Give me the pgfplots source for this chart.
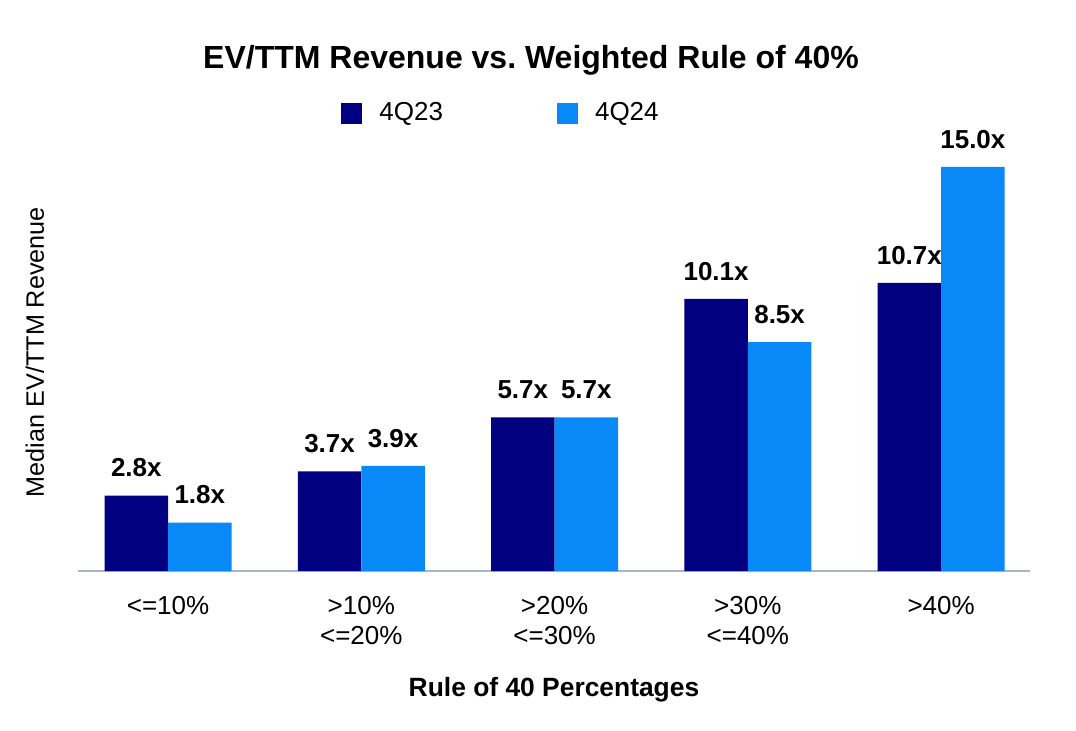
\documentclass[border=0pt]{standalone}
\usepackage{pgfplots}
\pgfplotsset{compat=1.18}
\usepackage{fontspec}
\setmainfont{Liberation Sans}
\definecolor{navyc}{HTML}{000080}
\definecolor{bluec}{HTML}{0889F7}
\definecolor{axisc}{HTML}{A9B4C8}
\begin{document}
\begin{tikzpicture}
\useasboundingbox (-39pt,-79.5pt) rectangle (499pt,285.5pt);
\begin{axis}[
  at={(0pt,0pt)}, anchor=south west,
  scale only axis,
  width=476pt, height=215.5pt,
  xmin=-0.466, xmax=4.46,
  ymin=0, ymax=16,
  ybar=0pt,
  bar width=0.3286,
  axis x line*=bottom,
  axis y line*=left,
  y axis line style={draw=none},
  x axis line style={draw=axisc, line width=1.2pt, -},
  ytick=\empty,
  xtick=data,
  xtick style={draw=none},
  major tick length=0pt,
  xticklabels={{<=10\%},{>10\%\\<=20\%},{>20\%\\<=30\%},{>30\%\\<=40\%},{>40\%}},
  xticklabel style={font=\fontsize{13pt}{15pt}\selectfont, align=center, anchor=north, inner sep=0pt, yshift=-12.5pt, text=black},
  ylabel={Median EV/TTM Revenue},
  ylabel style={font=\fontsize{12.6pt}{15pt}\selectfont, at={(axis description cs:-0.0452,0.508)}, anchor=center, rotate=0},
  xlabel={Rule of 40 Percentages},
  xlabel style={font=\bfseries\fontsize{13.2pt}{16pt}\selectfont, at={(axis description cs:0.5,0)}, anchor=center, yshift=-59.5pt},
  nodes near coords={\pgfmathprintnumber[fixed,fixed zerofill,precision=1,assume math mode=true]{\pgfplotspointmeta}x},
  every node near coord/.append style={font=\bfseries\fontsize{13pt}{15pt}\selectfont, anchor=south, inner sep=0pt, yshift=9pt, text=black},
  legend columns=2,
  legend style={at={(0.2763,1.0626)}, anchor=west, draw=none, fill=none, inner sep=0pt,
    font=\fontsize{13pt}{15pt}\selectfont,
    /tikz/every even column/.append style={column sep=55pt},
    /tikz/every odd column/.append style={column sep=6.5pt}},
  legend image code/.code={\fill[#1] (0pt,-5.25pt) rectangle (10.5pt,5.25pt);},
]
\addplot[fill=navyc, draw=none] coordinates {(0,2.8) (1,3.7) (2,5.7) (3,10.1) (4,10.7)};
\addplot[fill=bluec, draw=none] coordinates {(0,1.8) (1,3.9) (2,5.7) (3,8.5) (4,15.0)};
\legend{4Q23,4Q24}
\end{axis}
\node[font=\bfseries\fontsize{16pt}{19pt}\selectfont, anchor=center] at (226.5pt,255.5pt) {EV/TTM Revenue vs.\ Weighted Rule of 40\%};
\end{tikzpicture}
\end{document}
